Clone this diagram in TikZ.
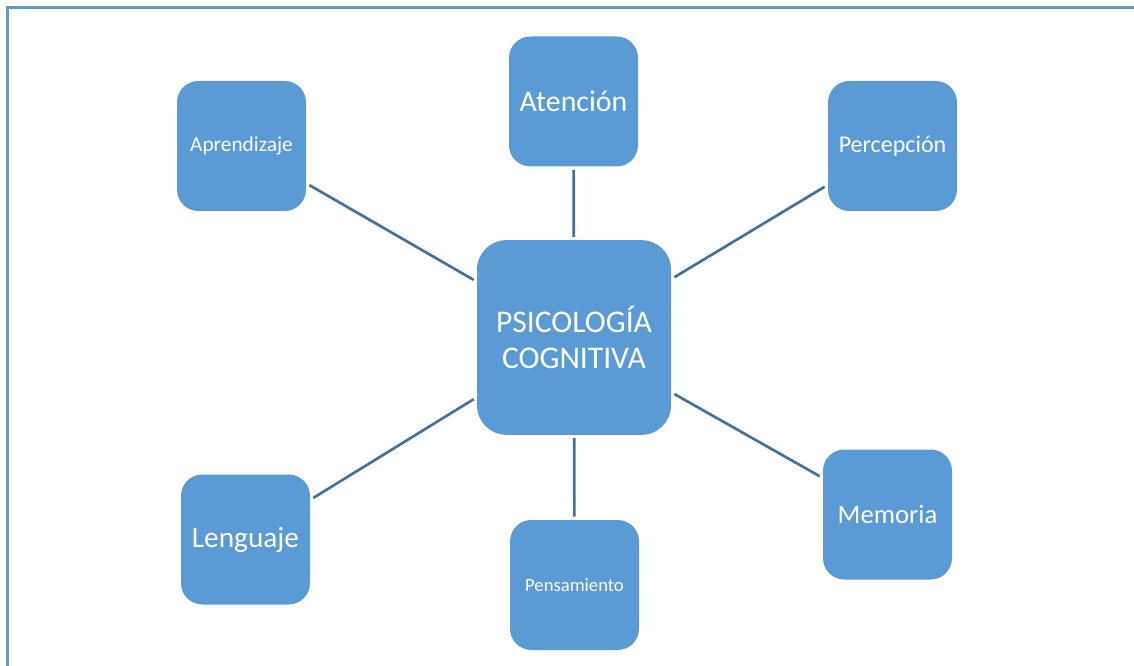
\documentclass[tikz,border=0pt]{standalone}
\usepackage{fontspec}
\setmainfont{Carlito}
\definecolor{boxfill}{RGB}{91,155,213}
\definecolor{linkcol}{RGB}{65,113,156}
\begin{document}
\begin{tikzpicture}[x=0.75pt,y=-0.75pt,
  topic/.style={draw=none,fill=boxfill,rounded corners=16pt,minimum width=96.75pt,
    minimum height=97.5pt,inner sep=0pt,outer sep=2.5pt,text=white,align=center},
  hub/.style={topic,minimum width=145.5pt,minimum height=146pt,rounded corners=22pt},
  link/.style={draw=linkcol,line width=2pt}]
\useasboundingbox (0,0) rectangle (1134,666);
% outer frame
\begin{scope}
\clip (0,0) rectangle (1134,666);
\draw[boxfill,line width=2.25pt] (7.5,7.5) rectangle (1145,680);
\end{scope}
% nodes
\node[hub,font=\fontsize{23.7}{27}\selectfont] (c) at (574,337.5) {PSICOLOGÍA\\COGNITIVA};
\node[topic,font=\fontsize{16}{19}\selectfont] (apr) at (241.5,146) {Aprendizaje};
\node[topic,font=\fontsize{22.4}{26}\selectfont] (ate) at (573.5,101.5) {Atención};
\node[topic,font=\fontsize{18}{21}\selectfont] (per) at (892.5,146) {Percepción};
\node[topic,font=\fontsize{22}{26}\selectfont] (len) at (245.5,539.5) {Lenguaje};
\node[topic,font=\fontsize{14}{17}\selectfont] (pen) at (574.5,585) {Pensamiento};
\node[topic,font=\fontsize{20}{24}\selectfont] (mem) at (887.5,514.5) {Memoria};
% links
\draw[link] (apr) -- (c);
\draw[link] (ate) -- (c);
\draw[link] (per) -- (c);
\draw[link] (len) -- (c);
\draw[link] (pen) -- (c);
\draw[link] (mem) -- (c);
\end{tikzpicture}
\end{document}
